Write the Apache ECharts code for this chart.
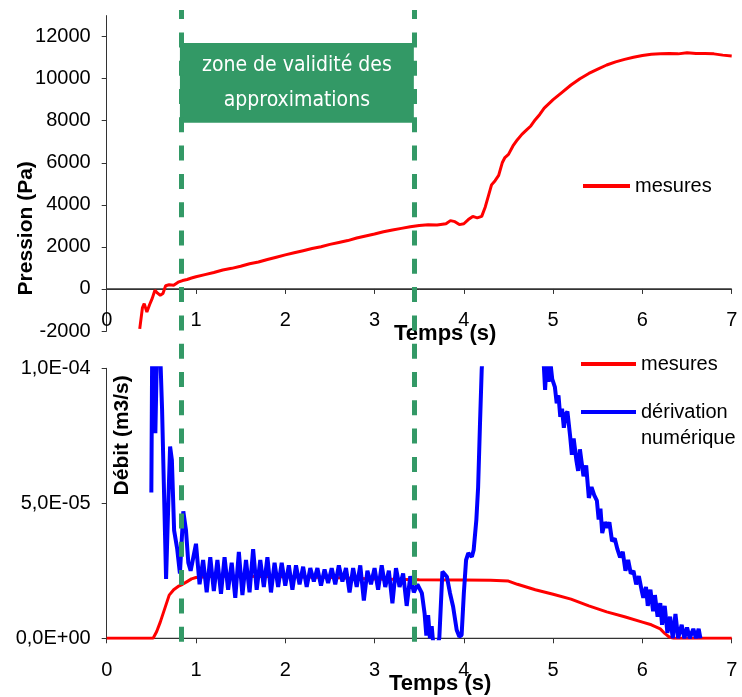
<!DOCTYPE html>
<html>
<head>
<meta charset="utf-8">
<script src="https://cdn.jsdelivr.net/npm/echarts@6/dist/echarts.min.js"></script>
<style>html,body{margin:0;padding:0;background:#fff}#c{width:742px;height:697px}</style>
</head>
<body>
<div id="c"></div>
<script>
// ---------- DATA ----------
// Top panel: pressure (Pa) vs time (s)
const pressureTime = [0.37,0.40,0.42,0.45,0.48,0.51,0.54,0.57,0.60,0.63,0.66,0.70,0.75,0.80,0.85,0.90,0.95,1.00,1.10,1.20,1.30,1.40,1.50,1.60,1.70,1.80,1.90,2.00,2.10,2.20,2.30,2.40,2.50,2.60,2.70,2.80,2.90,3.00,3.10,3.20,3.30,3.40,3.50,3.60,3.70,3.80,3.85,3.90,3.95,4.00,4.05,4.10,4.15,4.20,4.24,4.28,4.31,4.35,4.39,4.43,4.46,4.50,4.55,4.60,4.65,4.70,4.75,4.80,4.85,4.90,4.95,5.00,5.10,5.20,5.30,5.40,5.50,5.60,5.70,5.80,5.90,6.00,6.10,6.20,6.30,6.40,6.50,6.60,6.70,6.80,6.90,7.00];
const pressureValue = [-1900,-900,-700,-1100,-750,-450,-60,-200,-300,-220,150,200,180,320,400,450,520,580,680,780,900,980,1080,1200,1280,1400,1510,1620,1720,1820,1920,2010,2120,2210,2300,2420,2520,2610,2720,2800,2880,2960,3020,3050,3040,3100,3250,3200,3060,3100,3300,3450,3380,3450,3900,4500,4950,5150,5400,6000,6250,6400,6800,7100,7350,7550,7750,8050,8300,8600,8800,9000,9350,9700,10000,10250,10450,10650,10800,10920,11020,11100,11160,11180,11200,11180,11230,11200,11200,11180,11120,11080];

// Bottom panel: flow rate, values in units of 1e-5 m3/s
const FLOW_UNIT = 1e-5;
const flowTime = [0,0.52,0.56,0.60,0.65,0.70,0.75,0.80,0.85,0.90,0.95,1.00,1.20,1.50,2.00,2.50,3.00,3.50,4.00,4.30,4.50,4.60,4.80,5.00,5.20,5.40,5.60,5.80,6.00,6.10,6.20,6.25,6.30,6.35,7.00];
const flowValue = [0,0,0.25,0.6,1.1,1.6,1.8,1.92,2.0,2.1,2.2,2.25,2.3,2.3,2.28,2.25,2.2,2.17,2.16,2.15,2.12,2.0,1.8,1.63,1.45,1.2,0.98,0.8,0.6,0.5,0.35,0.18,0.05,0,0];

const derivTime = [0.50,0.51,0.545,0.565,0.60,0.62,0.645,0.665,0.69,0.71,0.73,0.755,0.79,0.82,0.858,0.888,0.914,0.94,0.97,
1.00,1.04,1.08,1.12,1.16,1.20,1.24,1.28,1.32,1.36,1.40,1.44,1.48,1.52,1.56,1.60,1.64,1.68,1.72,1.76,1.80,1.84,1.88,1.92,1.96,
2.00,2.04,2.08,2.12,2.16,2.20,2.24,2.28,2.32,2.36,2.40,2.44,2.48,2.52,2.56,2.60,2.64,2.68,2.72,2.76,2.80,2.84,2.88,2.92,2.96,
3.00,3.04,3.08,3.12,3.16,3.20,3.24,3.28,3.32,3.36,3.40,3.44,3.48,3.53,3.56,3.58,3.60,3.62,3.64,3.66,3.70,3.725,3.76,3.81,3.845,3.88,3.92,3.95,3.975,
4.00,4.025,4.05,4.09,4.11,4.14,4.16,4.18,4.20,4.25,4.50,4.85,4.91,4.93,4.95,4.97,4.99,
5.02,5.04,5.06,5.08,5.10,5.12,5.14,5.16,5.19,5.21,5.23,5.26,5.28,5.30,5.32,5.34,5.37,5.40,5.43,5.46,5.49,5.51,5.53,5.55,5.58,5.61,5.63,5.66,5.69,5.72,5.75,5.78,5.81,5.84,5.87,5.90,5.93,5.96,5.99,
6.01,6.04,6.06,6.09,6.12,6.14,6.17,6.20,6.22,6.25,6.28,6.31,6.34,6.37,6.40,6.44,6.47,6.50,6.53,6.57,6.60,6.63,6.65];
const derivValue = [5.4,11,7.6,11,10.5,8.5,5.0,2.2,5.0,7.1,6.6,4.0,3.3,2.4,4.7,4.0,2.8,2.5,3.0,
3.5,2.0,2.9,1.7,3.0,1.75,2.9,1.65,3.0,1.8,2.8,1.5,3.2,1.6,2.9,1.7,3.3,1.8,2.9,1.9,3.0,1.7,2.8,1.9,2.8,
1.95,2.7,1.8,2.7,2.0,2.65,1.9,2.6,2.1,2.6,1.95,2.55,2.05,2.6,2.0,2.7,2.1,2.6,1.7,2.6,1.9,2.7,1.4,2.5,2.0,
2.6,1.8,2.7,1.9,2.5,1.3,2.6,1.9,2.4,1.2,2.3,1.7,2.0,1.67,0.93,0.1,0.86,0.0,0.45,-0.3,-0.3,0.0,2.47,2.28,1.67,1.17,0.31,0.06,0.12,
1.67,2.9,3.15,3.02,3.27,4.38,5.6,7.84,9.94,13,15,13,9.2,10.4,9.5,10.2,9.6,
9.3,8.7,9.0,8.2,8.5,7.8,8.3,8.4,7.5,6.8,7.4,6.6,6.2,7.0,6.5,6.0,6.4,5.2,5.6,5.3,5.1,4.4,4.8,3.9,4.3,4.1,4.3,3.6,3.7,3.3,3.0,3.2,2.5,2.9,2.4,2.5,2.0,2.3,1.8,
1.5,1.9,1.2,1.8,1.0,1.6,0.8,1.3,0.5,1.2,0.2,0.8,0.0,0.9,0.0,0.5,0.0,0.4,0.0,0.35,0.0,0.35,0.0];

// Axis ticks / labels
const timeTicks = [0,1,2,3,4,5,6,7];
const pressureTicks = [-2000,0,2000,4000,6000,8000,10000,12000];
const flowTicks = [0, 5e-5, 1e-4];

// Zone of validity (time bounds) and its label
const zoneBounds = [0.83, 3.44];
const zoneBoxPressure = [7900, 11700];
const zoneLabel = 'zone de validité des\napproximations';

// ---------- CHART ----------
const zip = (xs, ys, k) => xs.map((x, i) => [x, ys[i] * (k || 1)]);
function sci(v) {
  const s = Number(v).toExponential(1);
  const m = s.match(/^(-?\d\.\d)e([+-])(\d+)$/);
  if (!m) return s;
  return m[1].replace('.', ',') + 'E' + m[2] + m[3].padStart(2, '0');
}

const FONT = 'Liberation Sans, Arial, sans-serif';
const AXIS_COLOR = '#333';
const labelStyle = { fontFamily: FONT, fontSize: 20, color: '#000' };
const nameStyle = { fontFamily: FONT, fontSize: 21, fontWeight: 'bold', color: '#000' };
const GREEN = '#339966';
const P_MIN = -2000, P_MAX = 13000;
const T_RANGE = [timeTicks[0], timeTicks[timeTicks.length - 1]];

// Zero baseline (time axis line) as a plain line series on the value scales
function baseline(xi, yi) {
  return { name: '', type: 'line', xAxisIndex: xi, yAxisIndex: yi, silent: true, z: 1,
    data: T_RANGE.map(t => [t, 0]), showSymbol: false, symbol: 'none',
    color: AXIS_COLOR, lineStyle: { color: AXIS_COLOR, width: 1.2 }, emphasis: { disabled: true } };
}

function timeAxis(gridIndex, nameGap, namePad) {
  return { gridIndex, type: 'value', min: 0, max: 7, interval: 1, position: 'bottom', offset: 0,
    axisLine: { show: true, onZero: false, lineStyle: { color: AXIS_COLOR, width: 1, opacity: 1 } },
    axisTick: { show: true, length: 5, inside: false, lineStyle: { color: AXIS_COLOR, width: 1, opacity: 1 } },
    axisLabel: { ...labelStyle, margin: 22 },
    splitLine: { show: false },
    name: 'Temps (s)', nameLocation: 'middle', nameGap, nameMoveOverlap: false,
    nameTextStyle: { ...nameStyle, fontSize: 22, padding: [0, 0, 0, namePad] } };
}

const chart = echarts.init(document.getElementById('c'), null, { renderer: 'canvas' });
const option = {
  animation: false,
  backgroundColor: '#fff',
  grid: [
    { left: 106.7, right: 10.3, top: 15.6, height: 315.4 },
    { left: 106.7, right: 10.3, top: 368.3, height: 270 },
    { left: 106.7, right: 10.3, top: 10, bottom: 55.3 }
  ],
  xAxis: [
    timeAxis(0, 34, 52),
    timeAxis(1, 35, 42),
    { gridIndex: 2, type: 'value', min: 0, max: 7, show: false }
  ],
  yAxis: [
    { gridIndex: 0, type: 'value', min: P_MIN, max: P_MAX,
      axisLine: { show: true, onZero: false, lineStyle: { color: AXIS_COLOR, width: 1 } },
      axisTick: { show: true, length: 5, lineStyle: { color: AXIS_COLOR, width: 1 }, customValues: pressureTicks },
      axisLabel: { ...labelStyle, margin: 16, customValues: pressureTicks, formatter: v => String(Math.round(v)) },
      splitLine: { show: false },
      name: 'Pression (Pa)', nameLocation: 'middle', nameGap: 70, nameMoveOverlap: false,
      nameTextStyle: { ...nameStyle, padding: [0, 110, 0, 0] } },
    { gridIndex: 1, type: 'value', min: 0, max: 1e-4, interval: 5e-5,
      axisLine: { show: true, onZero: false, lineStyle: { color: AXIS_COLOR, width: 1 } },
      axisTick: { show: true, length: 5, lineStyle: { color: AXIS_COLOR, width: 1 } },
      axisLabel: { ...labelStyle, margin: 16, formatter: sci },
      splitLine: { show: false },
      name: 'Débit (m3/s)', nameLocation: 'middle', nameGap: -26, nameMoveOverlap: false,
      nameTextStyle: { ...nameStyle, padding: [0, 0, 0, 136] } },
    { gridIndex: 2, type: 'value', min: 0, max: 1, show: false }
  ],
  legend: [
    { data: ['mesures'], left: 583, top: 176, padding: 0, icon: 'rect', itemWidth: 47, itemHeight: 4, itemGap: 0,
      textStyle: { ...labelStyle }, selectedMode: false },
    { data: ['mesures'], left: 581, top: 354, padding: 0, icon: 'rect', itemWidth: 55, itemHeight: 4, itemGap: 0,
      textStyle: { ...labelStyle }, selectedMode: false },
    { data: ['dérivation\nnumérique'], left: 581, top: 373, padding: 0, icon: 'rect', itemWidth: 55, itemHeight: 4,
      formatter: name => '\n' + name,
      textStyle: { ...labelStyle, lineHeight: 26 }, selectedMode: false }
  ],
  series: [
    { name: 'mesures', type: 'line', xAxisIndex: 0, yAxisIndex: 0, data: zip(pressureTime, pressureValue),
      showSymbol: false, symbol: 'none', color: '#FF0000', lineStyle: { color: '#FF0000', width: 3 }, clip: true, z: 3,
      markArea: { silent: true, itemStyle: { color: GREEN, opacity: 1 },
        label: { show: true, position: 'inside', color: '#fff', fontFamily: "'Liberation Sans Narrow', 'DejaVu Sans Condensed', sans-serif",
          fontSize: 21, lineHeight: 35, formatter: zoneLabel },
        data: [[{ xAxis: zoneBounds[0] - 0.01, yAxis: zoneBoxPressure[0] }, { xAxis: zoneBounds[1], yAxis: zoneBoxPressure[1] }]] } },
    { name: 'mesures', type: 'line', xAxisIndex: 1, yAxisIndex: 1, data: zip(flowTime, flowValue, FLOW_UNIT),
      showSymbol: false, symbol: 'none', color: '#FF0000', lineStyle: { color: '#FF0000', width: 3 }, clip: true, z: 3 },
    { name: 'dérivation\nnumérique', type: 'line', xAxisIndex: 1, yAxisIndex: 1, data: zip(derivTime, derivValue, FLOW_UNIT),
      showSymbol: false, symbol: 'none', color: '#0000FF', lineStyle: { color: '#0000FF', width: 4 }, clip: true, z: 4 },
    baseline(0, 0),
    baseline(1, 1),
    { name: 'zone', type: 'line', xAxisIndex: 2, yAxisIndex: 2, data: [], z: 10, silent: true,
      markLine: { silent: true, symbol: ['none', 'none'], label: { show: false },
        lineStyle: { color: GREEN, width: 5, type: [15, 13.3] },
        data: zoneBounds.map(v => ({ xAxis: v })) } }
  ]
};
chart.setOption(option);

// Place the top time axis on the pressure = 0 line, using the chart's own y scale.
const yZero = chart.convertToPixel({ yAxisIndex: 0 }, 0);
const yBottom = chart.convertToPixel({ yAxisIndex: 0 }, P_MIN);
chart.setOption({ xAxis: [{ offset: -(yBottom - yZero) }] });
</script>
</body>
</html>
